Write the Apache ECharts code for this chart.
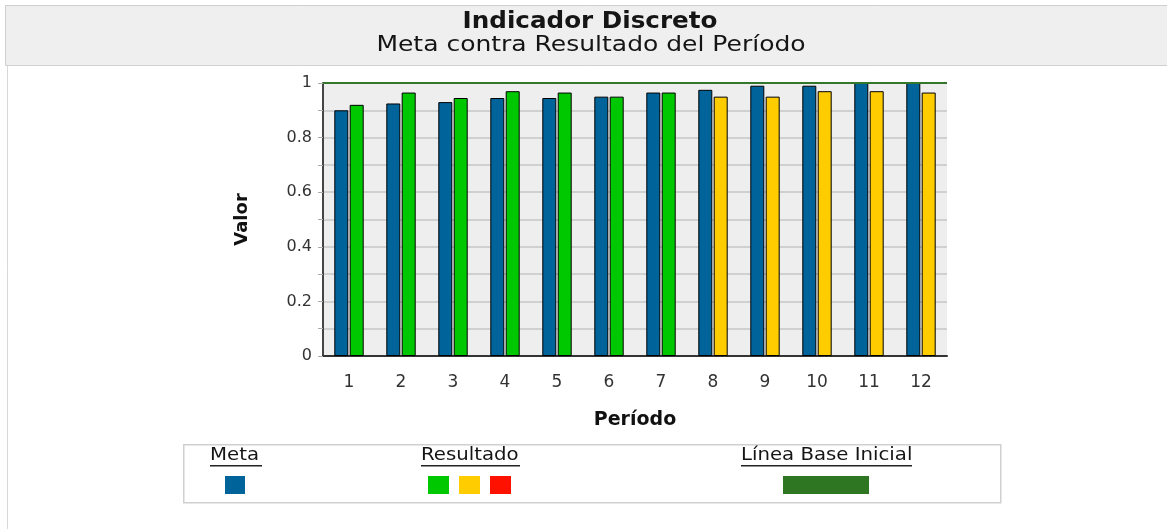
<!DOCTYPE html>
<html lang="es">
<head>
    <meta charset="UTF-8">
    <title>Indicador Discreto</title>
    <script src="https://cdn.jsdelivr.net/npm/echarts@6/dist/echarts.min.js"></script>
    <style>
        html, body { margin: 0; padding: 0; background: #fff; }
    </style>
</head>
<body>
<div id="main" style="width: 1167px;height:529px;"></div>
<script type="text/javascript">
    // datos del indicador
    var periodos = ['1', '2', '3', '4', '5', '6', '7', '8', '9', '10', '11', '12'];
    var meta = [0.90, 0.925, 0.93, 0.945, 0.945, 0.95, 0.965, 0.975, 0.99, 0.99, 1.0, 1.0];
    var resultado = [0.92, 0.965, 0.945, 0.97, 0.965, 0.95, 0.965, 0.95, 0.95, 0.97, 0.97, 0.965];
    var lineaBase = 1;
    var yTicks = [0, 0.2, 0.4, 0.6, 0.8, 1];

    var fuente = '"DejaVu Sans", sans-serif';
    var azul = '#00649a', verde = '#00c800', amarillo = '#ffcc00', rojo = '#ff1100', verdeBase = '#33772a';

    var myChart = echarts.init(document.getElementById('main'));

    // el texto original sale un poco ensanchado, de ahi el escalado
    function texto(x, y, t, font, escala, align) {
        return {
            type: 'text', x: x, y: y, scaleX: escala,
            style: { text: t, font: font, fill: '#151515', align: align || 'left', verticalAlign: 'middle' }
        };
    }

    function leyenda(x, w, t) {
        return [
            texto(x, 456, t, '17px ' + fuente, 1.16),
            { type: 'rect', left: x, top: 465, shape: { width: w, height: 1.5 }, style: { fill: '#222' } }
        ];
    }

    var graficos = [
        // marco exterior y cabecera
        { type: 'rect', left: 5, top: 5, shape: { width: 1170, height: 530 }, style: { fill: 'none', stroke: '#d8d8d8', lineWidth: 1 }, z: -10 },
        { type: 'rect', left: 5, top: 5, shape: { width: 1170, height: 60 }, style: { fill: '#efefef', stroke: '#d0d0d0', lineWidth: 1 }, z: -9 },
        texto(590, 22, 'Indicador Discreto', 'bold 23px ' + fuente, 1.07, 'center'),
        texto(591, 46, 'Meta contra Resultado del Período', '21px ' + fuente, 1.19, 'center'),
        // caja de leyenda
        { type: 'rect', left: 183, top: 444, shape: { width: 817, height: 58 }, style: { fill: '#fff', stroke: '#d0d0d0', lineWidth: 1.5 } },
        { type: 'rect', left: 225, top: 476, shape: { width: 20, height: 18 }, style: { fill: azul } },
        { type: 'rect', left: 428, top: 476, shape: { width: 21, height: 18 }, style: { fill: verde } },
        { type: 'rect', left: 459, top: 476, shape: { width: 21, height: 18 }, style: { fill: amarillo } },
        { type: 'rect', left: 490, top: 476, shape: { width: 21, height: 18 }, style: { fill: rojo } },
        { type: 'rect', left: 783, top: 476, shape: { width: 86, height: 18 }, style: { fill: '#2f7622' } }
    ]
        .concat(leyenda(210, 52, 'Meta'))
        .concat(leyenda(421, 99, 'Resultado'))
        .concat(leyenda(741, 171, 'Línea Base Inicial'));

    var option = {
        backgroundColor: '#fff',
        animation: false,
        grid: {
            left: 323, right: 220, top: 83, bottom: 173,
            show: true,
            backgroundColor: '#eeeeee',
            borderWidth: 0
        },
        xAxis: {
            type: 'category',
            data: periodos,
            name: 'Período',
            nameLocation: 'middle',
            nameGap: 55,
            nameTextStyle: { fontFamily: fuente, fontSize: 19, fontWeight: 'bold', color: '#111' },
            axisLine: { lineStyle: { color: '#333', width: 2 } },
            axisTick: { alignWithLabel: true, length: 4, lineStyle: { color: '#aaa' } },
            axisLabel: { fontFamily: fuente, fontSize: 17, color: '#333', margin: 18 }
        },
        yAxis: {
            type: 'value',
            min: 0,
            max: 1,
            interval: 0.1,
            name: 'Valor',
            nameLocation: 'middle',
            nameGap: 72,
            nameTextStyle: { fontFamily: fuente, fontSize: 18, fontWeight: 'bold', color: '#111' },
            axisLine: { show: true, lineStyle: { color: '#444', width: 2 } },
            axisTick: { show: true, length: 5, lineStyle: { color: '#aaa' } },
            axisLabel: {
                fontFamily: fuente, fontSize: 16, color: '#333', margin: 11,
                formatter: function (v) {
                    var r = Math.round(v * 10) / 10;
                    return yTicks.indexOf(r) >= 0 ? String(r) : '';
                }
            },
            splitLine: { show: true, lineStyle: { color: '#d0d0d0', width: 2 } }
        },
        series: [{
            name: 'Meta',
            type: 'bar',
            data: meta,
            barWidth: 14,
            barGap: '10%',
            itemStyle: { color: azul, borderColor: '#000', borderWidth: 1 },
            markLine: {
                silent: true,
                symbol: 'none',
                label: { show: false },
                lineStyle: { color: verdeBase, width: 2, type: 'solid' },
                data: [{ yAxis: lineaBase }]
            }
        }, {
            name: 'Resultado',
            type: 'bar',
            data: resultado,
            barWidth: 14,
            itemStyle: {
                borderColor: '#000',
                borderWidth: 1,
                color: function (p) {
                    return resultado[p.dataIndex] >= meta[p.dataIndex] ? verde : amarillo;
                }
            }
        }],
        graphic: graficos
    };

    myChart.setOption(option);
</script>
</body>
</html>
